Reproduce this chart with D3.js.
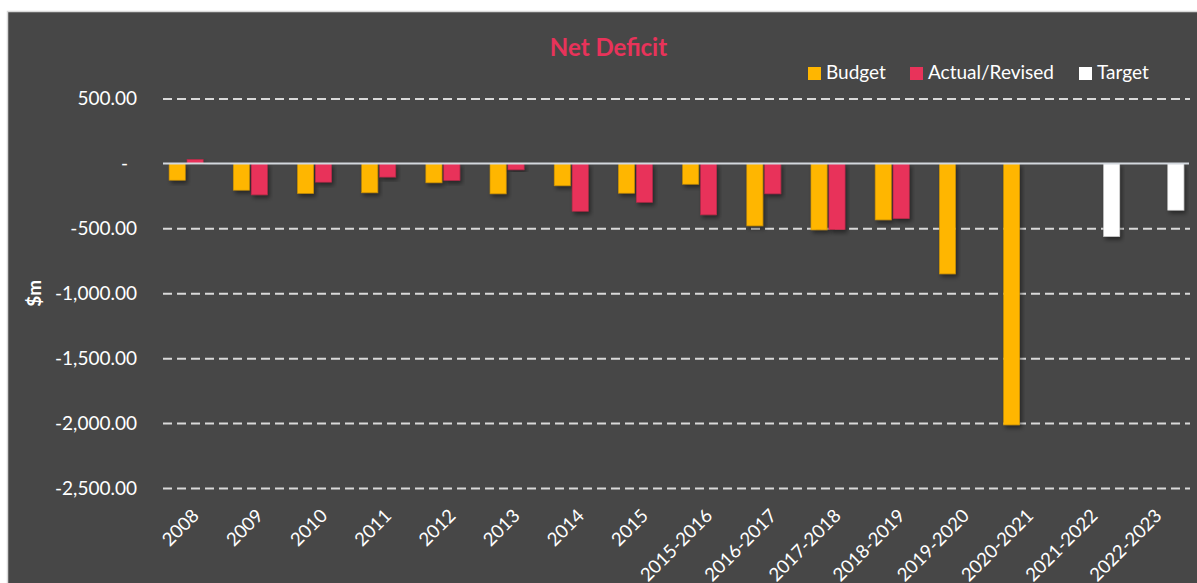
<!DOCTYPE html>
<html>
<head>
<meta charset="utf-8">
<script src="https://cdn.jsdelivr.net/npm/d3@7"></script>
<style>
    body { margin: 0; background: #ffffff; }
    svg { display: block; font-family: Lato, "Open Sans", sans-serif; }
</style>
</head>
<body>
<div id="chart"></div>
<script>
// Chart data
var categories = ["2008", "2009", "2010", "2011", "2012", "2013", "2014", "2015",
    "2015-2016", "2016-2017", "2017-2018", "2018-2019", "2019-2020", "2020-2021",
    "2021-2022", "2022-2023"];
var budget = [-129, -206, -231, -226, -149, -234, -172, -229,
    -160, -481, -512, -435, -851, -2014, null, null];
var actual = [31, -242, -144, -105, -131, -49, -368, -299,
    -396, -234, -510, -425, null, null, null, null];
var target = [null, null, null, null, null, null, null, null,
    null, null, null, null, null, null, -563, -360];
var seriesNames = ["Budget", "Actual/Revised", "Target"];
var yTicks = [500, 0, -500, -1000, -1500, -2000, -2500];

var colors = { "Budget": "#FFB600", "Actual/Revised": "#E8335A", "Target": "#FFFFFF" };
var edges = { "Budget": "#C98F00", "Actual/Revised": "#B82646", "Target": "#D0D0D0" };

var W = 1197, H = 583;
var plot = { left: 163, right: 1190, top: 98.5, bottom: 488 };

var svg = d3.select("#chart").append("svg")
    .attr("width", W)
    .attr("height", H);

// drop shadow for bars
var defs = svg.append("defs");
defs.append("filter")
    .attr("id", "shadow")
    .attr("x", "-30%").attr("y", "-30%")
    .attr("width", "160%").attr("height", "160%")
    .append("feDropShadow")
    .attr("dx", 2).attr("dy", 3)
    .attr("stdDeviation", 2)
    .attr("flood-color", "#000")
    .attr("flood-opacity", 0.45);

// chart background
svg.append("rect")
    .attr("x", 7.5).attr("y", 11.5)
    .attr("width", W).attr("height", H)
    .attr("fill", "#474747")
    .attr("stroke", "#D9D9D9")
    .attr("stroke-width", 1.5);

// scales
var x0 = d3.scaleBand()
    .domain(categories)
    .range([plot.left, plot.right])
    .paddingInner(0.19)
    .paddingOuter(0.095);

var x1 = d3.scaleBand()
    .domain(seriesNames)
    .range([0, x0.bandwidth()])
    .paddingInner(0.1);

var y = d3.scaleLinear()
    .domain([-2500, 500])
    .range([plot.bottom, plot.top]);

var locale = d3.formatLocale({ decimal: ".", thousands: ",", grouping: [3], currency: ["$", ""], minus: "-" });
var fmt = locale.format(",.2f");

// y axis with dashed grid
var yAxis = svg.append("g")
    .attr("transform", "translate(" + plot.left + ",0)")
    .call(d3.axisLeft(y)
        .tickValues(yTicks)
        .tickSize(-(plot.right - plot.left))
        .tickPadding(26)
        .tickFormat(function (d) { return d === 0 ? "-" : fmt(d); }));

yAxis.select(".domain").remove();
yAxis.selectAll(".tick line")
    .attr("stroke", "#D9D9D9")
    .attr("stroke-width", 2)
    .attr("stroke-dasharray", "9,5")
    .attr("stroke-opacity", function (d) { return d === 0 ? 0 : 1; });
yAxis.selectAll(".tick text")
    .attr("fill", "#FFFFFF")
    .attr("font-size", "19px")
    .attr("font-family", "Lato, sans-serif")
    .attr("dx", function (d) { return d === 0 ? -9 : 0; });

// rows per category
var rows = categories.map(function (c, i) {
    return { cat: c, values: [
        { key: "Budget", value: budget[i] },
        { key: "Actual/Revised", value: actual[i] },
        { key: "Target", value: target[i] }
    ] };
});

// bars
var groups = svg.append("g").selectAll("g")
    .data(rows)
    .enter().append("g")
    .attr("transform", function (d) { return "translate(" + x0(d.cat) + ",0)"; });

groups.selectAll("rect")
    .data(function (d) { return d.values.filter(function (v) { return v.value !== null; }); })
    .enter().append("rect")
    .attr("x", function (d) { return x1(d.key); })
    .attr("width", x1.bandwidth())
    .attr("y", function (d) { return y(Math.max(0, d.value)); })
    .attr("height", function (d) { return Math.abs(y(d.value) - y(0)); })
    .attr("fill", function (d) { return colors[d.key]; })
    .attr("stroke", function (d) { return edges[d.key]; })
    .attr("stroke-width", 0.6)
    .attr("filter", "url(#shadow)");

// zero line
svg.append("line")
    .attr("x1", plot.left).attr("x2", plot.right - 1)
    .attr("y1", y(0)).attr("y2", y(0))
    .attr("stroke", "#D3D8DE")
    .attr("stroke-width", 2);

// x labels (long ones run off the bottom edge, as in the original)
svg.append("g").selectAll("text")
    .data(categories)
    .enter().append("text")
    .attr("transform", function (d) {
        return "translate(" + (x0(d) + x0.bandwidth() / 2 + 5) + ",517) rotate(-45)";
    })
    .attr("text-anchor", "end")
    .attr("fill", "#FFFFFF")
    .attr("font-size", "18.5px")
    .text(function (d) { return d; });

// y axis title
svg.append("text")
    .attr("transform", "translate(41," + y(-1000) + ") rotate(-90)")
    .attr("text-anchor", "middle")
    .attr("fill", "#FFFFFF")
    .attr("font-size", "19px")
    .attr("font-weight", "bold")
    .text("$m");

// title
svg.append("text")
    .attr("x", 608.5)
    .attr("y", 56)
    .attr("text-anchor", "middle")
    .attr("fill", "#E8335A")
    .attr("font-size", "24px")
    .attr("font-weight", "bold")
    .text("Net Deficit");

// legend
var legendX = [808, 910, 1079];
var legend = svg.append("g").selectAll("g")
    .data(seriesNames)
    .enter().append("g")
    .attr("transform", function (d, i) { return "translate(" + legendX[i] + ",67)"; });

legend.append("rect")
    .attr("width", 13).attr("height", 13)
    .attr("fill", function (d) { return colors[d]; });

legend.append("text")
    .attr("x", 18)
    .attr("y", 12)
    .attr("fill", "#FFFFFF")
    .attr("font-size", "19px")
    .text(function (d) { return d; });
</script>
</body>
</html>
